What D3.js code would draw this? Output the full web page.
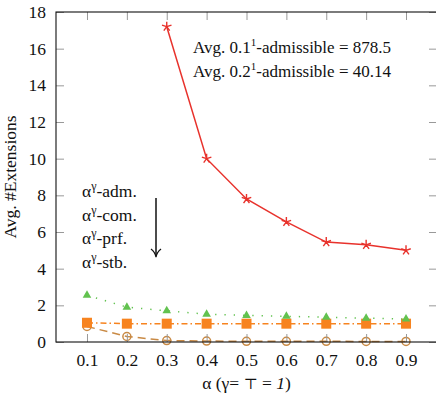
<!DOCTYPE html>
<html>
<head>
<meta charset="utf-8">
<script src="https://cdn.jsdelivr.net/npm/d3@7"></script>
</head>
<body style="margin:0;background:#fff">
<div id="chart"></div>
<script>
// values
var alphas = [0.1, 0.2, 0.3, 0.4, 0.5, 0.6, 0.7, 0.8, 0.9];
var admValues = [null, null, 17.2, 10.0, 7.8, 6.55, 5.45, 5.3, 5.0];
var comValues = [2.55, 1.9, 1.7, 1.52, 1.45, 1.4, 1.35, 1.3, 1.25];
var prfValues = [1.05, 1.0, 1.0, 1.0, 1.0, 1.0, 1.0, 1.0, 1.0];
var stbValues = [0.85, 0.3, 0.08, 0.05, 0.04, 0.04, 0.04, 0.03, 0.03];
var yTicks = [0, 2, 4, 6, 8, 10, 12, 14, 16, 18];
var legendNames = ["adm.", "com.", "prf.", "stb."];
var notes = [["0.1", "878.5"], ["0.2", "40.14"]];

var serif = "'Liberation Serif'";
var ink = "#111";

var margin = {top: 12, right: -1, bottom: 61, left: 56},
    width = 436 - margin.left - margin.right,
    height = 403 - margin.top - margin.bottom;

var xScale = d3.scaleLinear()
    .domain([0.0223, 0.9777])
    .range([0, width]);

var yScale = d3.scaleLinear()
    .domain([0, 18])
    .range([height, 0]);

var svg = d3.select("#chart").append("svg")
    .attr("width", 436)
    .attr("height", 403)
    .append("g")
    .attr("transform", "translate(" + margin.left + "," + margin.top + ")");

var series = [
  {values: admValues, color: "#e8322c", dash: null, mark: "star"},
  {values: comValues, color: "#62c24f", dash: "1.3 8", mark: "triangle"},
  {values: prfValues, color: "#f7831f", dash: "6 3 1.5 3", mark: "square"},
  {values: stbValues, color: "#c98a45", dash: "8 5", mark: "circle"}
];

var line = d3.line()
    .defined(function(d) { return d != null; })
    .x(function(d, i) { return xScale(alphas[i]); })
    .y(function(d) { return yScale(d); });

// draw series back to front so brown sits on top like the original
series.slice().reverse().forEach(function(s) {
  svg.append("path")
    .datum(s.values)
    .attr("d", line)
    .attr("fill", "none")
    .attr("stroke", s.color)
    .attr("stroke-width", 1.5)
    .attr("stroke-dasharray", s.dash);

  var pts = s.values.map(function(v, i) { return {x: alphas[i], y: v}; })
    .filter(function(d) { return d.y != null; });

  var g = svg.selectAll(null)
    .data(pts)
    .enter().append("g")
    .attr("transform", function(d) { return "translate(" + xScale(d.x) + "," + yScale(d.y) + ")"; });

  if (s.mark == "star") {
    g.append("path")
      .attr("d", d3.range(5).map(function(k) {
        var a = -Math.PI / 2 + k * 2 * Math.PI / 5;
        return "M0,0L" + (5 * Math.cos(a)) + "," + (5 * Math.sin(a));
      }).join(""))
      .attr("stroke", s.color)
      .attr("stroke-width", 1.4)
      .attr("fill", "none");
  } else if (s.mark == "triangle") {
    g.append("path")
      .attr("d", "M0,-5L4.3,2.5L-4.3,2.5Z")
      .attr("fill", s.color);
  } else if (s.mark == "square") {
    g.append("rect")
      .attr("x", -5).attr("y", -5)
      .attr("width", 10).attr("height", 10)
      .attr("fill", s.color);
  } else {
    g.append("circle")
      .attr("r", 4)
      .attr("fill", "none")
      .attr("stroke", s.color)
      .attr("stroke-width", 1.5);
  }
});

// axes: ticks inside on all four sides
var tickLen = 8;
var xAxisG = svg.append("g")
  .attr("transform", "translate(0," + height + ")")
  .call(d3.axisBottom(xScale).tickValues(alphas).tickSize(-tickLen).tickPadding(12)
    .tickFormat(d3.format(".1f")));
svg.append("g")
  .call(d3.axisTop(xScale).tickValues(alphas).tickSize(-tickLen).tickFormat(""));
var yAxisG = svg.append("g")
  .call(d3.axisLeft(yScale).tickValues(yTicks).tickSize(-tickLen).tickPadding(10));
svg.append("g")
  .attr("transform", "translate(" + width + ",0)")
  .call(d3.axisRight(yScale).tickValues(yTicks).tickSize(-tickLen).tickFormat(""));

// d3 sets font-family on the axis group; replace it
xAxisG.attr("font-family", null).style("font-family", serif);
yAxisG.attr("font-family", null).style("font-family", serif);

svg.selectAll(".domain").remove();
svg.selectAll(".tick line").attr("stroke", "#999").attr("stroke-width", 1);
svg.selectAll(".tick text")
  .attr("font-size", 17.5)
  .style("font-family", serif)
  .attr("fill", ink);

svg.append("rect")
  .attr("x", 0).attr("y", 0)
  .attr("width", width).attr("height", height)
  .attr("fill", "none")
  .attr("stroke", ink)
  .attr("stroke-width", 1.1);

// notes top right
var noteText = svg.append("g").selectAll("text")
  .data(notes)
  .enter().append("text")
  .attr("x", 137)
  .attr("y", function(d, i) { return 41 + i * 24; })
  .attr("font-size", 17)
  .attr("fill", ink)
  .style("font-family", serif);
noteText.append("tspan").text(function(d) { return "Avg. " + d[0]; });
noteText.append("tspan").attr("font-size", 11).attr("dy", -7).text("1");
noteText.append("tspan").attr("dy", 7).text(function(d) { return "-admissible = " + d[1]; });

// legend-like labels with arrow
var leg = svg.append("g").selectAll("text")
  .data(legendNames)
  .enter().append("text")
  .attr("x", 26)
  .attr("y", function(d, i) { return 185 + i * 23.5; })
  .attr("font-size", 17.5)
  .attr("fill", ink)
  .style("font-family", serif);
leg.append("tspan").text("α");
leg.append("tspan").attr("font-size", 12).attr("dy", -7).text("γ");
leg.append("tspan").attr("dy", 7).text(function(d) { return "-" + d; });

svg.append("line")
  .attr("x1", 100).attr("x2", 100)
  .attr("y1", 186).attr("y2", 244)
  .attr("stroke", ink).attr("stroke-width", 1.5);
svg.append("path")
  .attr("d", "M95,237Q99,240 100,245Q101,240 105,237")
  .attr("fill", "none").attr("stroke", ink).attr("stroke-width", 1.3);

// axis titles
svg.append("text")
  .attr("transform", "translate(-40," + (height / 2) + ") rotate(-90)")
  .attr("text-anchor", "middle")
  .attr("font-size", 17.5)
  .attr("fill", ink)
  .style("font-family", serif)
  .text("Avg. #Extensions");

var xt = svg.append("text")
  .attr("x", xScale(0.5))
  .attr("y", height + 47)
  .attr("text-anchor", "middle")
  .attr("font-size", 17.5)
  .attr("fill", ink)
  .style("font-family", serif);
xt.append("tspan").text("α (γ= ");
xt.append("tspan").style("font-family", "'DejaVu Serif'").attr("font-size", 15).text("⊤");
xt.append("tspan").text(" = ");
xt.append("tspan").attr("font-style", "italic").text("1");
xt.append("tspan").text(")");
</script>
</body>
</html>
